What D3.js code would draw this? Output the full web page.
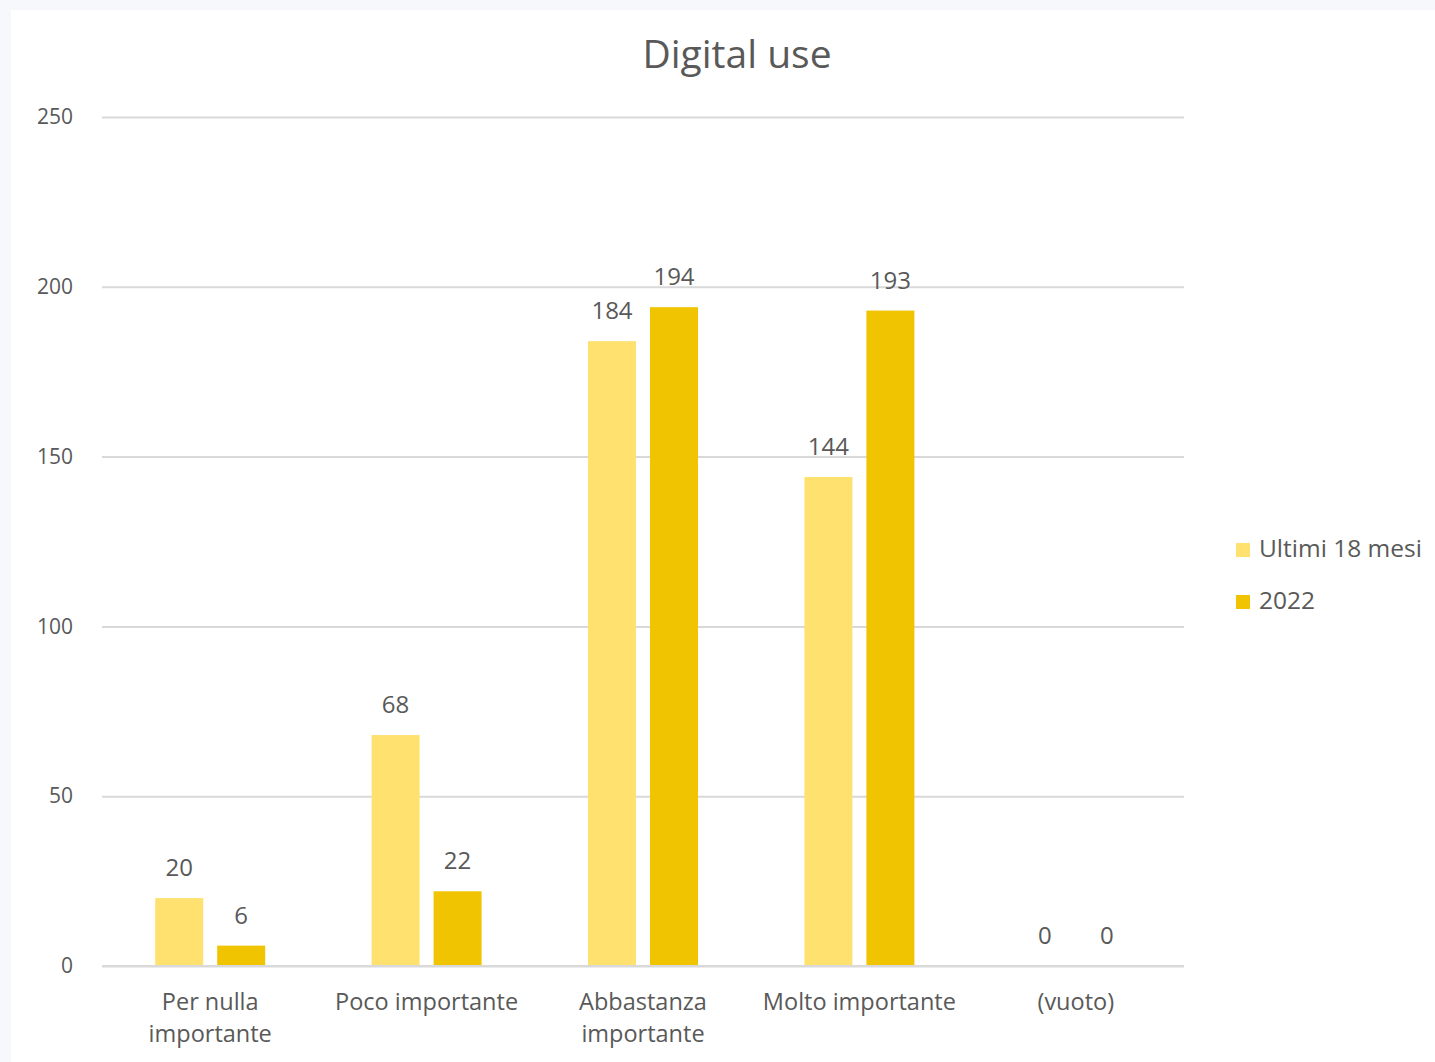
<!DOCTYPE html>
<html>
<head>
<meta charset="utf-8">
<script src="https://cdn.jsdelivr.net/npm/d3@7"></script>
<style>
  html, body { margin: 0; padding: 0; background: #f6f8fc; }
  svg { display: block; }
  text { font-family: "Open Sans", "Noto Sans", sans-serif; fill: #595959; }
</style>
</head>
<body>
<script>
// Categories (line breaks mark the wrapped axis labels)
const categories = ["Per nulla\nimportante", "Poco importante", "Abbastanza\nimportante", "Molto importante", "(vuoto)"];
const seriesNames = ["Ultimi 18 mesi", "2022"];
const ultimi18 = [20, 68, 184, 144, 0];
const anno2022 = [6, 22, 194, 193, 0];
const yTicks = [0, 50, 100, 150, 200, 250];
const colors = ["#ffe170", "#f0c400"];

const W = 1435, H = 1062;
const svg = d3.select("body").append("svg").attr("width", W).attr("height", H);

// white chart card
svg.append("rect").attr("x", 11).attr("y", 10).attr("width", W - 11).attr("height", H - 10).attr("fill", "#ffffff");

const plot = { left: 102, right: 1184, top: 117, bottom: 966 };

const x = d3.scaleBand().domain(categories).range([plot.left, plot.right]);
const y = d3.scaleLinear().domain([0, 250]).range([plot.bottom, plot.top]);
const barW = 48, barGap = 14;
const groupW = barW * 2 + barGap;
const barX = k => k * (barW + barGap);

// gridlines + y labels
const yAxis = d3.axisLeft(y).tickValues(yTicks).tickSize(-(plot.right - plot.left)).tickPadding(29);
const gy = svg.append("g").attr("transform", `translate(${plot.left},0)`).call(yAxis);
gy.select(".domain").remove();
gy.selectAll(".tick line").attr("stroke", "#d9d9d9").attr("stroke-width", 2);
gy.selectAll(".tick text").attr("font-size", 21).style("fill", "#595959")
  .attr("font-family", "'Open Sans', sans-serif");

// title
svg.append("text").attr("x", 737).attr("y", 68).attr("text-anchor", "middle")
  .attr("font-size", 39).text("Digital use");

const data = categories.map((c, i) => ({ cat: c, vals: [ultimi18[i], anno2022[i]] }));

const groups = svg.append("g").selectAll("g").data(data).join("g")
  .attr("transform", d => `translate(${x(d.cat) + (x.bandwidth() - groupW) / 2},0)`);

groups.selectAll("rect").data(d => d.vals.map((v, k) => ({ v, k }))).join("rect")
  .attr("x", d => barX(d.k))
  .attr("y", d => y(d.v))
  .attr("width", barW)
  .attr("height", d => y(0) - y(d.v))
  .attr("fill", d => colors[d.k]);

groups.selectAll("text.val").data(d => d.vals.map((v, k) => ({ v, k }))).join("text")
  .attr("class", "val")
  .attr("x", d => barX(d.k) + barW / 2)
  .attr("y", d => y(d.v) - 22)
  .attr("text-anchor", "middle")
  .attr("font-size", 24)
  .text(d => d.v);

// baseline axis
svg.append("line").attr("x1", plot.left).attr("x2", plot.right)
  .attr("y1", y(0)).attr("y2", y(0)).attr("stroke", "#d9d9d9").attr("stroke-width", 2);

// category labels
const xl = svg.append("g");
categories.forEach(c => {
  const lines = c.split("\n");
  const cx = x(c) + x.bandwidth() / 2;
  const t = xl.append("text").attr("text-anchor", "middle").attr("font-size", 23.5)
    .attr("x", cx).attr("y", 1010);
  lines.forEach((ln, i) => t.append("tspan").attr("x", cx).attr("dy", i === 0 ? 0 : 32).text(ln));
});

// legend
const lg = svg.append("g").attr("transform", "translate(1236,543)");
seriesNames.forEach((s, i) => {
  lg.append("rect").attr("x", 0).attr("y", i * 52).attr("width", 14).attr("height", 14).attr("fill", colors[i]);
  lg.append("text").attr("x", 23).attr("y", i * 52 + 14).attr("font-size", 24.5).text(s);
});
</script>
</body>
</html>
